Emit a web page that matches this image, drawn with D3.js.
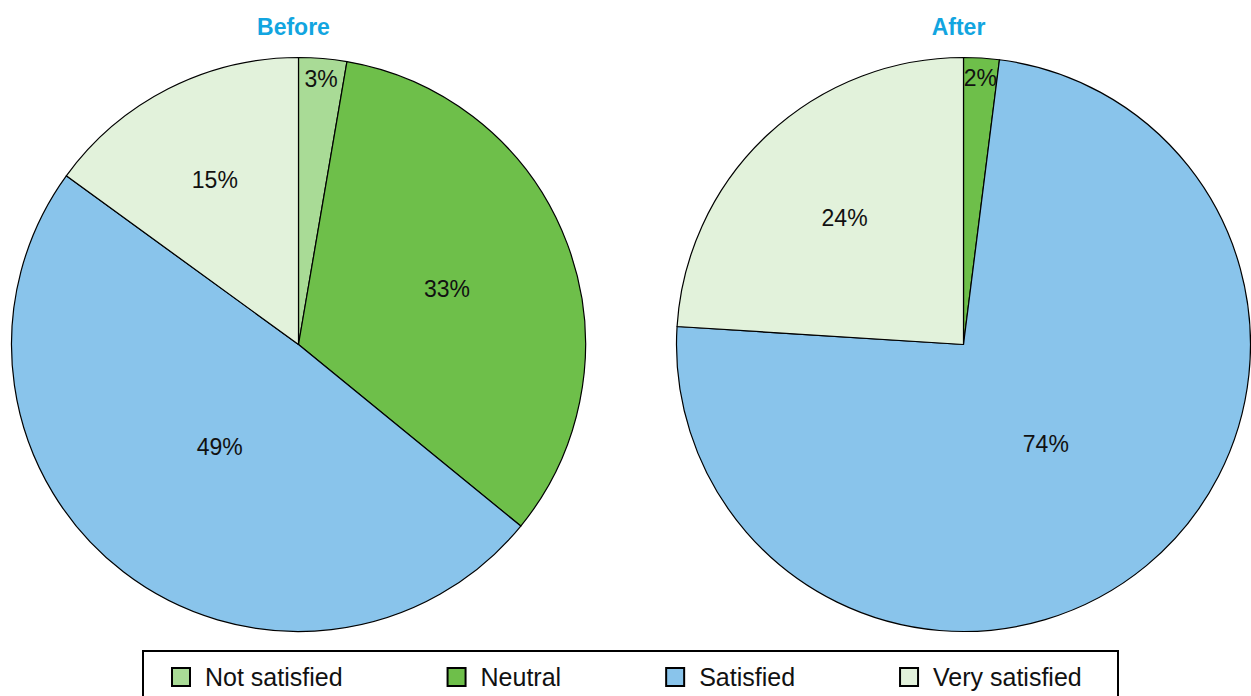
<!DOCTYPE html>
<html>
<head>
<meta charset="utf-8">
<script src="https://cdn.jsdelivr.net/npm/d3@7"></script>
<style>
  html, body { margin: 0; padding: 0; background: #fff; }
  svg { display: block; }
</style>
</head>
<body>
<svg id="chart" width="1251" height="696"></svg>
<script>
const categories = ["Not satisfied", "Neutral", "Satisfied", "Very satisfied"];
const beforeValues = [2.7, 33.2, 49.1, 15.0];
const afterValues = [0, 2, 74, 24];
const chartTitles = ["Before", "After"];
const colors = ["#a9db96", "#6ebf4a", "#89c4eb", "#e2f2db"];

const W = 1251, H = 696;
const svg = d3.select("#chart");
const R = 287;
const cy = 344.5;
const centers = [298.5, 963.5];
const labelFont = "'Liberation Sans', Arial, sans-serif";

const color = d3.scaleOrdinal().domain(categories).range(colors);
const pie = d3.pie().sort(null).value(d => d.value);
const arc = d3.arc().innerRadius(0).outerRadius(R);

[beforeValues, afterValues].forEach((vals, i) => {
  const data = categories.map((c, j) => ({ cat: c, value: vals[j] }));
  const g = svg.append("g").attr("transform", `translate(${centers[i]},${cy})`);
  const arcs = pie(data);
  g.selectAll("path").data(arcs).join("path")
    .attr("d", arc)
    .attr("fill", d => color(d.data.cat))
    .attr("stroke", "#000")
    .attr("stroke-width", 1.2)
    .attr("stroke-linejoin", "round");

  g.selectAll("text.lbl").data(arcs.filter(d => d.data.value > 0)).join("text")
    .attr("class", "lbl")
    .attr("transform", d => {
      const span = d.endAngle - d.startAngle;
      const a = span / 2;
      let r;
      if (span < 0.3) {
        r = R * 0.93;
      } else {
        const centroid = (2 * R * Math.sin(a)) / (3 * a);
        r = Math.max(centroid, 0.45 * R);
      }
      const mid = (d.startAngle + d.endAngle) / 2;
      return `translate(${r * Math.sin(mid)},${-r * Math.cos(mid)})`;
    })
    .attr("text-anchor", "middle")
    .attr("dominant-baseline", "central")
    .attr("font-family", labelFont)
    .attr("font-size", 23)
    .attr("fill", "#111")
    .text(d => d3.format(".0%")(d.data.value / d3.sum(vals)));

  svg.append("text")
    .attr("x", centers[i] - 5)
    .attr("y", 35)
    .attr("text-anchor", "middle")
    .attr("font-family", labelFont)
    .attr("font-weight", "bold")
    .attr("font-size", 23)
    .attr("fill", "#12a5e0")
    .text(chartTitles[i]);
});

// Legend
const legend = svg.append("g");
legend.append("rect")
  .attr("x", 143).attr("y", 651)
  .attr("width", 975).attr("height", 70)
  .attr("fill", "#fff")
  .attr("stroke", "#000")
  .attr("stroke-width", 2);

let lx = 171;
categories.forEach((c) => {
  const item = legend.append("g").attr("transform", `translate(${lx},0)`);
  item.append("rect")
    .attr("x", 1).attr("y", 668)
    .attr("width", 18).attr("height", 18)
    .attr("fill", color(c))
    .attr("stroke", "#000")
    .attr("stroke-width", 2);
  const t = item.append("text")
    .attr("x", 34).attr("y", 686)
    .attr("font-family", labelFont)
    .attr("font-size", 25)
    .attr("fill", "#111")
    .text(c);
  const w = t.node().getComputedTextLength();
  lx += 34 + w + 104;
});
</script>
</body>
</html>
